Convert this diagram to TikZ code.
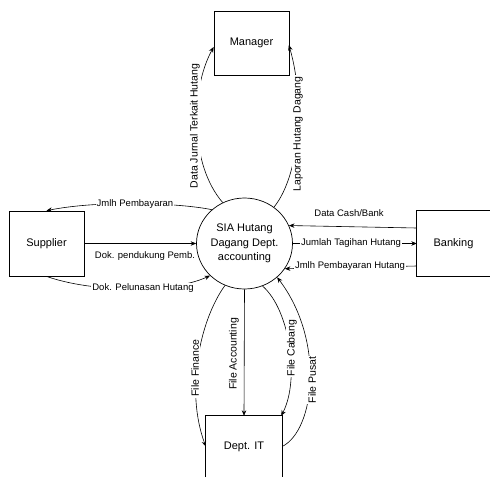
\documentclass[tikz,border=0pt]{standalone}
\usepackage{fontspec}
\setmainfont{Liberation Sans}
\usetikzlibrary{arrows.meta,shapes.geometric}
\begin{document}
\begin{tikzpicture}[x=1pt,y=-1pt,
  box/.style={draw,line width=0.7pt,minimum width=75pt,minimum height=64pt,inner sep=0pt,font=\fontsize{11}{13}\selectfont},
  openbox/.style={minimum width=#1,minimum height=61pt,inner sep=0pt,font=\fontsize{11}{13}\selectfont},
  edge/.style={line width=0.7pt},
  flow/.style={line width=0.6pt,-{Stealth[length=5.5pt,width=4.5pt]}},
  lab/.style={fill=white,inner sep=1pt,font=\fontsize{9.5}{11}\selectfont},
  vlab/.style={fill=white,inner sep=1pt,rotate=90,font=\fontsize{10.5}{12}\selectfont}]
\useasboundingbox (0,0) rectangle (490,477);
\fill[white] (0,0) rectangle (490,477);

% entities
\node[box] (mgr) at (251.5,43) {Manager};
\node[box,minimum height=65pt] (sup) at (46.5,243.5) {Supplier};
\node[openbox=73pt,minimum height=65pt] (bank) at (453.5,243.5) {Banking};
\draw[edge] (bank.north east) -- (bank.north west) -- (bank.south west) -- (bank.south east);
\node[openbox=76pt] (dept) at (244,446.5) {Dept. IT};
\draw[edge] (dept.south west) -- (dept.north west) -- (dept.north east) -- (dept.south east);

% process
\node[ellipse,draw,line width=0.7pt,minimum width=83pt,minimum height=91pt,inner sep=0pt,
      align=center,font=\fontsize{11}{14.5}\selectfont] (sia) at (244.5,243.5)
      {SIA Hutang\\Dagang Dept.\\accounting};

% flows: Manager
\draw[flow] (sia.118) .. controls (190,165) and (190,90) .. (mgr.west |- 0,47);
\draw[flow] (sia.51) .. controls (300,175) and (305,100) .. ([xshift=-0.5pt]mgr.east |- 0,45);

% flows: Supplier
\draw[flow] (sia.134) .. controls (180,203) and (100,200) .. (sup.north);
\draw[flow] (sup.east) -- (sia.west);
\draw[flow] (sup.south) .. controls (90,292) and (170,294) .. (sia.223);

% flows: Banking
\draw[flow] ([yshift=15.5pt]bank.west) -- (sia.22);
\draw[flow] (sia.east) -- (bank.west);
\draw[flow] ([yshift=-22.5pt]bank.west) -- (sia.328);

% flows: Dept. IT
\draw[flow] (sia.south) -- (dept.north);
\draw[flow] (sia.245) .. controls (200,320) and (185,390) .. (dept.west);
\draw[flow] (sia.293) .. controls (290,310) and (300,380) .. ([xshift=-1pt]dept.north east);
\draw[flow] (dept.east) .. controls (315,430) and (325,340) .. (sia.314);

% labels
\node[vlab] (l1) at (195,126) {Data Jurnal Terkait Hutang};
\node[vlab] (l2) at (298,134) {Laporan Hutang Dagang};
\node[lab] (l3) at (135,204) {Jmlh Pembayaran};
\node[lab] (l4) at (145,256) {Dok. pendukung Pemb.};
\node[lab] (l5) at (143,288) {Dok. Pelunasan Hutang};
\node[lab] (l6) at (349,213) {Data Cash/Bank};
\node[lab] (l7) at (351,243.5) {Jumlah Tagihan Hutang};
\node[lab] (l8) at (350,266) {Jmlh Pembayaran Hutang};
\node[vlab] (l9) at (234,354) {File Accounting};
\node[vlab] (l10) at (195,368) {File Finance};
\node[vlab] (l11) at (292,348) {File Cabang};
\node[vlab] (l12) at (312,380) {File Pusat};
\end{tikzpicture}
\end{document}
